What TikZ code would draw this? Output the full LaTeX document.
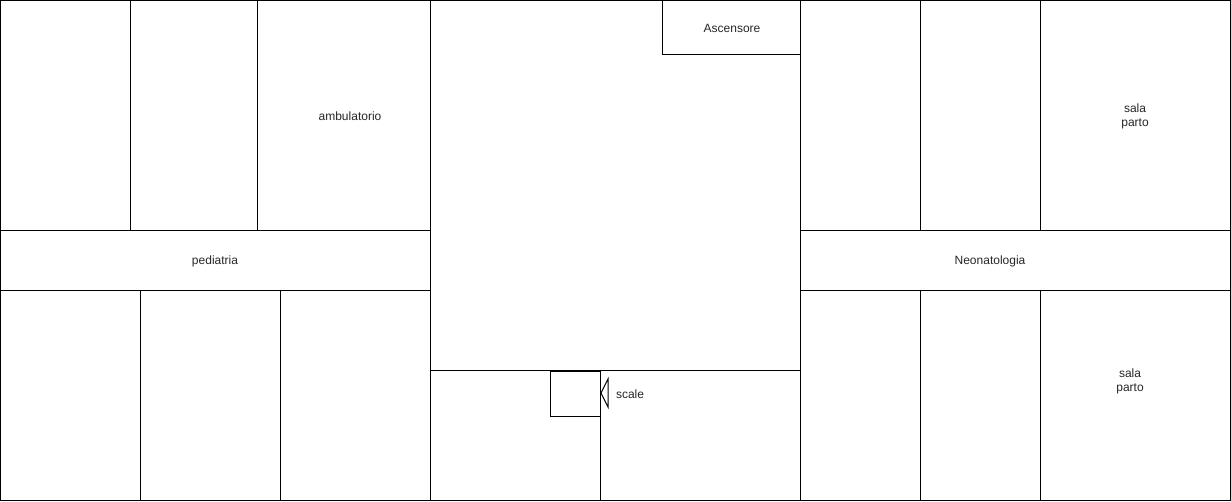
\documentclass[tikz,border=0pt]{standalone}
\usepackage{fontspec}
\setmainfont{Liberation Sans}
\begin{document}
\begin{tikzpicture}[x=0.75pt,y=-0.75pt,
  wall/.style={draw=black,line width=0.75pt},
  label/.style={inner sep=0pt,align=center,font=\fontsize{9}{10.5}\selectfont,text=black!85}]
\useasboundingbox (0,0) rectangle (1231,502);
% left wing
\draw[wall] (0.5,0.5) rectangle (130.5,230.5);
\draw[wall] (130.5,0.5) rectangle (257.5,230.5);
\draw[wall] (257.5,0.5) rectangle (430.5,230.5);
\draw[wall] (0.5,230.5) rectangle (430.5,290.5);
\draw[wall] (0.5,290.5) rectangle (140.5,500.5);
\draw[wall] (140.5,290.5) rectangle (280.5,500.5);
\draw[wall] (280.5,290.5) rectangle (430.5,500.5);
% centre
\draw[wall] (430.5,0.5) rectangle (800.5,370.5);
\draw[wall] (662.5,0.5) rectangle (800.5,54.5);
\draw[wall] (430.5,370.5) rectangle (600.5,500.5);
\draw[wall] (600.5,370.5) rectangle (800.5,500.5);
\draw[wall] (550.5,371.5) rectangle (600.5,416.5);
\draw[wall] (601,393) -- (608,379) -- (608,407) -- cycle;
% right wing
\draw[wall] (800.5,0.5) rectangle (920.5,230.5);
\draw[wall] (920.5,0.5) rectangle (1040.5,230.5);
\draw[wall] (1040.5,0.5) rectangle (1230.5,230.5);
\draw[wall] (800.5,230.5) rectangle (1230.5,290.5);
\draw[wall] (800.5,290.5) rectangle (920.5,500.5);
\draw[wall] (920.5,290.5) rectangle (1040.5,500.5);
\draw[wall] (1040.5,290.5) rectangle (1230.5,500.5);
% labels
\node[label] (amb) at (350,116) {ambulatorio};
\node[label] (ped) at (215,261.5) {pediatria};
\node[label] (asc) at (732,28) {Ascensore};
\node[label] (sca) at (630,394) {scale};
\node[label] (neo) at (990,261.5) {Neonatologia};
\node[label] (sp1) at (1135,116) {sala\\parto};
\node[label] (sp2) at (1130,381) {sala\\parto};
\end{tikzpicture}
\end{document}
